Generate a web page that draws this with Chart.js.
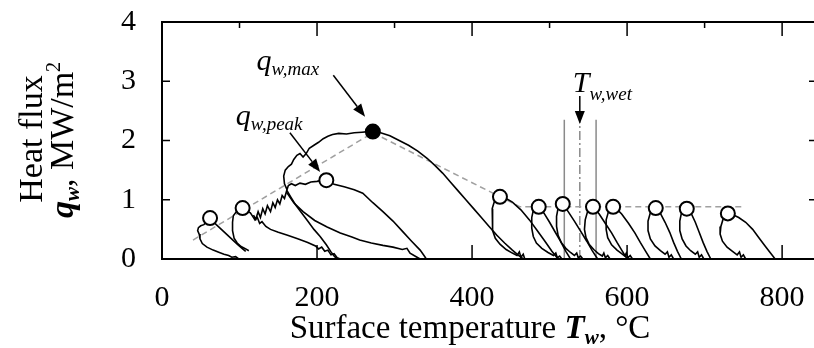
<!DOCTYPE html>
<html>
<head>
<meta charset="utf-8">
<script src="https://cdn.jsdelivr.net/npm/chart.js@4"></script>
<style>
  html, body { margin: 0; padding: 0; background: #fff; overflow: hidden; }
  #wrap { width: 830px; height: 348px; }
</style>
</head>
<body>
<div id="wrap"><canvas id="chart" width="830" height="348"></canvas></div>
<script>
// tick labels
const xTicks = [0, 200, 400, 600, 800];
const yTicks = [0, 1, 2, 3, 4];

// open circles (onset points) and the filled maximum
const peakT = [62, 104, 212, 436, 486, 517, 556, 582, 637, 677, 730];
const peakQ = [0.69, 0.86, 1.33, 1.05, 0.88, 0.93, 0.88, 0.88, 0.86, 0.85, 0.77];
const maxT = [272];
const maxQ = [2.15];

// boiling curves, [T, q] pairs
const curve62 = [[108,0.13],[104,0.17],[97,0.25],[88,0.36],[79,0.47],[70,0.58],[64,0.66],[58,0.63],[54,0.58],[50,0.56],[47,0.53],[46,0.48],[48,0.42],[49,0.34],[52,0.26],[58,0.2],[66,0.15],[74,0.11],[80,0.08],[86,0.06],[90,0.03],[95,0.04],[99,0]];
const curve104 = [[112,0.14],[108,0.17],[102,0.21],[97,0.27],[93,0.35],[91,0.48],[91,0.62],[92,0.73],[96,0.8],[103,0.83],[108,0.82],[114,0.78],[117,0.72],[120,0.66],[123,0.7],[126,0.6],[129,0.63],[134,0.55],[140,0.5],[150,0.45],[162,0.4],[175,0.34],[188,0.28],[198,0.22],[202,0.17],[206,0.2],[210,0.13],[214,0.15],[218,0.07],[222,0.09],[226,0.02],[230,0]];
const curveRise = [[118,0.74],[121,0.67],[124,0.8],[127,0.7],[130,0.85],[133,0.76],[136,0.9],[140,0.8],[143,0.95],[146,0.87],[149,1.0],[152,0.93],[155,1.07],[158,1.02],[161,1.16],[166,1.05],[172,0.92],[180,0.78],[188,0.64],[196,0.5],[204,0.38],[212,0.24],[218,0.12],[222,0.05],[226,0]];
const curve212 = [[161,1.16],[163,1.24],[167,1.27],[172,1.24],[178,1.28],[185,1.26],[192,1.3],[200,1.31],[206,1.33],[212,1.33],[222,1.26],[235,1.22],[248,1.17],[259,1.11],[272,0.95],[285,0.8],[298,0.64],[310,0.47],[322,0.3],[333,0.15],[338,0.06],[341,0]];
const curve212low = [[161,1.12],[170,0.95],[182,0.8],[197,0.65],[213,0.54],[230,0.44],[245,0.37],[255,0.32],[270,0.27],[285,0.23],[298,0.2],[310,0.16],[316,0.18],[320,0.1],[329,0.03],[333,0]];
const curveMax = [[161,1.18],[158,1.27],[157,1.4],[159,1.5],[163,1.56],[167,1.6],[170,1.68],[174,1.75],[178,1.78],[182,1.72],[186,1.78],[190,1.87],[196,1.92],[202,1.97],[208,2.03],[214,2.07],[220,2.1],[228,2.12],[238,2.11],[248,2.13],[258,2.14],[266,2.15],[272,2.15],[282,2.13],[294,2.08],[306,2.0],[318,1.92],[330,1.82],[342,1.7],[352,1.58],[362,1.45],[372,1.3],[382,1.15],[392,1.0],[402,0.85],[412,0.7],[422,0.55],[432,0.4],[442,0.27],[452,0.15],[460,0.06],[466,0]];
const curve436 = [[511,0],[503,0.13],[494,0.3],[484,0.48],[474,0.66],[463,0.83],[452,0.96],[444,1.02],[436,1.05],[429,0.98],[426,0.85],[426,0.65],[427,0.48],[430,0.35],[436,0.25],[444,0.16],[452,0.1],[458,0.06],[461,0.12],[463,0.03],[466,0.08],[468,0]];
const curve486 = [[527,0],[521,0.13],[514,0.3],[507,0.46],[500,0.62],[493,0.77],[486,0.88],[479,0.82],[477,0.7],[477,0.52],[479,0.38],[483,0.27],[490,0.18],[498,0.11],[505,0.06],[508,0.1],[510,0.02],[513,0.05],[516,0]];
const curve517 = [[562,0],[555,0.14],[548,0.3],[540,0.47],[532,0.64],[524,0.8],[517,0.93],[511,0.86],[509,0.72],[509,0.55],[511,0.4],[515,0.28],[521,0.18],[527,0.11],[532,0.06],[535,0.1],[537,0.02],[540,0.05],[543,0]];
const curve556 = [[600,0],[594,0.13],[587,0.28],[580,0.44],[572,0.6],[564,0.76],[556,0.88],[549,0.8],[546,0.66],[545,0.5],[547,0.36],[551,0.25],[557,0.16],[563,0.09],[568,0.05],[570,0.1],[572,0.02],[575,0.06],[578,0]];
const curve582 = [[630,0],[624,0.13],[617,0.28],[610,0.44],[602,0.6],[593,0.76],[584,0.88],[576,0.8],[573,0.66],[573,0.5],[575,0.36],[580,0.24],[587,0.15],[593,0.09],[597,0.05],[599,0.1],[601,0.02],[604,0.06],[607,0]];
const curve637 = [[670,0],[665,0.13],[660,0.28],[655,0.45],[649,0.62],[643,0.77],[637,0.86],[630,0.78],[627,0.64],[627,0.48],[630,0.34],[636,0.22],[643,0.14],[649,0.08],[652,0.12],[654,0.03],[657,0.07],[660,0]];
const curve677 = [[708,0],[703,0.13],[698,0.28],[693,0.45],[688,0.62],[683,0.76],[677,0.85],[670,0.77],[668,0.64],[668,0.48],[671,0.34],[676,0.22],[682,0.14],[688,0.08],[691,0.12],[693,0.03],[696,0.07],[699,0]];
const curve730 = [[791,0],[785,0.1],[778,0.22],[770,0.36],[762,0.5],[753,0.62],[744,0.7],[736,0.75],[730,0.77],[724,0.68],[721,0.55],[720,0.42],[723,0.3],[729,0.2],[736,0.13],[742,0.07],[745,0.12],[747,0.03],[750,0.07],[753,0]];

// grey guide lines
const trendUp = [[40,0.32],[272,2.13]];
const trendDown = [[272,2.13],[462,0.88],[748,0.88]];
const wetLow = [[519,0],[519,2.35]];
const wetHigh = [[560,0],[560,2.35]];
const wetMid = [[539,0],[539,2.35]];

const SERIF = '"Liberation Serif", "Times New Roman", serif';
const R = n => `${n}px ${SERIF}`;
const I = n => `italic ${n}px ${SERIF}`;
const BI = n => `italic bold ${n}px ${SERIF}`;

const pts = arr => arr.map(([x, y]) => ({x, y}));
const curve = arr => ({data: pts(arr), showLine: true, borderColor: '#000', borderWidth: 1.6, pointRadius: 0, tension: 0, order: 2});
const guide = (arr, dash, color) => ({data: pts(arr), showLine: true, borderColor: color, borderWidth: 1.5, borderDash: dash, pointRadius: 0, tension: 0, order: 3});

const curves = [curve62, curve104, curveRise, curve212, curve212low, curveMax, curve436, curve486, curve517, curve556, curve582, curve637, curve677, curve730];

const datasets = [
  guide(trendUp, [6, 4], '#a0a0a0'),
  guide(trendDown, [6, 4], '#a0a0a0'),
  guide(wetLow, [], '#8a8a8a'),
  guide(wetHigh, [], '#8a8a8a'),
  guide(wetMid, [9, 3, 2, 3], '#8a8a8a'),
  ...curves.map(curve),
  {data: peakT.map((t, i) => ({x: t, y: peakQ[i]})), showLine: false, pointRadius: 7, pointBorderWidth: 2,
   pointBackgroundColor: '#fff', pointBorderColor: '#000', order: 0},
  {data: maxT.map((t, i) => ({x: t, y: maxQ[i]})), showLine: false, pointRadius: 7, pointBorderWidth: 2,
   pointBackgroundColor: '#000', pointBorderColor: '#000', order: 0}
];

function runs(ctx, parts, x, y, align){
  let w = 0;
  parts.forEach(p => { ctx.font = p.f; p.w = ctx.measureText(p.t).width; w += p.w; });
  let cx = align === 'center' ? x - w / 2 : x;
  parts.forEach(p => { ctx.font = p.f; ctx.fillText(p.t, cx, y + (p.dy || 0)); cx += p.w; });
}

function arrow(ctx, x1, y1, x2, y2){
  const a = Math.atan2(y2 - y1, x2 - x1);
  const len = 13, half = 5;
  const bx = x2 - len * Math.cos(a), by = y2 - len * Math.sin(a);
  ctx.beginPath();
  ctx.moveTo(x1, y1);
  ctx.lineTo(bx, by);
  ctx.stroke();
  ctx.beginPath();
  ctx.moveTo(x2, y2);
  ctx.lineTo(bx + half * Math.sin(a), by - half * Math.cos(a));
  ctx.lineTo(bx - half * Math.sin(a), by + half * Math.cos(a));
  ctx.closePath();
  ctx.fill();
}

const decorations = {
  id: 'decorations',
  afterDraw(chart){
    const ctx = chart.ctx;
    const {left, right, top, bottom} = chart.chartArea;
    const sx = chart.scales.x, sy = chart.scales.y;
    ctx.save();
    ctx.strokeStyle = '#000';
    ctx.fillStyle = '#000';

    // frame
    ctx.lineWidth = 2;
    ctx.strokeRect(left, top, right - left, bottom - top);

    // inward ticks
    ctx.lineWidth = 1.5;
    ctx.beginPath();
    for (let v = 100; v < sx.max; v += 100) {
      const px = sx.getPixelForValue(v);
      const major = v % 200 === 0;
      ctx.moveTo(px, top);
      ctx.lineTo(px, top + (major ? 14 : 6));
      if (major) { ctx.moveTo(px, bottom); ctx.lineTo(px, bottom - 14); }
    }
    for (let v = 1; v < 4; v++) {
      const py = sy.getPixelForValue(v);
      ctx.moveTo(left, py); ctx.lineTo(left + 8, py);
      ctx.moveTo(right, py); ctx.lineTo(right - 8, py);
    }
    ctx.stroke();

    // annotations
    ctx.lineWidth = 1.5;
    ctx.textBaseline = 'alphabetic';
    ctx.textAlign = 'left';
    runs(ctx, [{t: 'q', f: I(30)}, {t: 'w,max', f: I(19), dy: 5}],
      sx.getPixelForValue(122), sy.getPixelForValue(3.19), 'left');
    arrow(ctx, sx.getPixelForValue(221), sy.getPixelForValue(3.1), sx.getPixelForValue(262), sy.getPixelForValue(2.4));

    runs(ctx, [{t: 'q', f: I(30)}, {t: 'w,peak', f: I(19), dy: 5}],
      sx.getPixelForValue(95), sy.getPixelForValue(2.26), 'left');
    arrow(ctx, sx.getPixelForValue(165), sy.getPixelForValue(2.13), sx.getPixelForValue(204), sy.getPixelForValue(1.47));

    runs(ctx, [{t: 'T', f: I(30)}, {t: 'w,wet', f: I(19), dy: 8}],
      sx.getPixelForValue(530), sy.getPixelForValue(2.82), 'left');
    arrow(ctx, sx.getPixelForValue(539), sy.getPixelForValue(2.75), sx.getPixelForValue(539), sy.getPixelForValue(2.28));

    // axis titles
    runs(ctx, [{t: 'Surface temperature ', f: R(33)}, {t: 'T', f: BI(33)}, {t: 'w', f: BI(21), dy: 6}, {t: ', °C', f: R(33)}],
      (left + Math.min(right, 814)) / 2 - 18, 338, 'center');

    ctx.save();
    ctx.translate(42, 139);
    ctx.rotate(-Math.PI / 2);
    runs(ctx, [{t: 'Heat flux', f: R(34)}], 0, 0, 'center');
    ctx.restore();

    ctx.save();
    ctx.translate(73, 140);
    ctx.rotate(-Math.PI / 2);
    runs(ctx, [{t: 'q', f: BI(34)}, {t: 'w', f: BI(21), dy: 6}, {t: ', MW/m', f: R(34)}, {t: '2', f: R(20), dy: -13}], 0, 0, 'center');
    ctx.restore();

    ctx.restore();
  }
};

new Chart(document.getElementById('chart'), {
  type: 'scatter',
  data: {datasets},
  options: {
    responsive: false,
    animation: false,
    events: [],
    layout: {padding: {top: 22, right: 13, left: 0, bottom: 0}},
    plugins: {legend: {display: false}, tooltip: {enabled: false}},
    scales: {
      x: {
        type: 'linear', min: 0, max: 845,
        grid: {display: false, drawTicks: false},
        border: {display: false},
        ticks: {font: {family: SERIF, size: 30}, color: '#000', padding: 21, maxRotation: 0, autoSkip: false},
        afterBuildTicks: s => { s.ticks = xTicks.map(v => ({value: v})); },
        afterFit: s => { s.height = 89; s.paddingLeft = 0; s.paddingRight = 0; }
      },
      y: {
        type: 'linear', min: 0, max: 4,
        grid: {display: false, drawTicks: false},
        border: {display: false},
        ticks: {font: {family: SERIF, size: 30}, color: '#000', padding: 26},
        afterBuildTicks: s => { s.ticks = yTicks.map(v => ({value: v})); },
        afterFit: s => { s.width = 162; s.paddingTop = 0; s.paddingBottom = 0; }
      }
    }
  },
  plugins: [decorations]
});
</script>
</body>
</html>
